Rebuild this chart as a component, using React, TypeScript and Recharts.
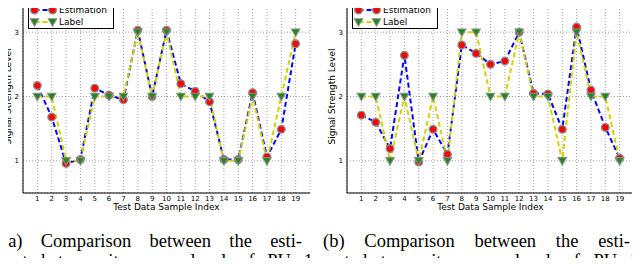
import React from 'react';
import { LineChart, Line, XAxis, YAxis, CartesianGrid } from 'recharts';

const sampleIndex = [1, 2, 3, 4, 5, 6, 7, 8, 9, 10, 11, 12, 13, 14, 15, 16, 17, 18, 19];

const estimationPU1 = [2.17, 1.68, 0.96, 1.02, 2.13, 2.02, 1.95, 3.03, 2.0, 3.03, 2.2, 2.08, 1.92, 1.02, 1.02, 2.06, 1.06, 1.49, 2.82];
const labelPU1 = [2, 2, 1, 1, 2, 2, 2, 3, 2, 3, 2, 2, 2, 1, 1, 2, 1, 2, 3];

const estimationPU2 = [1.71, 1.6, 1.19, 2.64, 0.98, 1.49, 1.1, 2.8, 2.67, 2.5, 2.55, 3.0, 2.05, 2.04, 1.49, 3.08, 2.1, 1.52, 1.04];
const labelPU2 = [2, 2, 1, 2, 1, 2, 1, 3, 3, 2, 2, 3, 2, 2, 1, 3, 2, 2, 1];

const yTicks = [1, 2, 3];

const captionA = ['(a) Comparison between the esti-', 'mated transmit power level of PU 1'];
const captionB = ['(b) Comparison between the esti-', 'mated transmit power level of PU 2'];

const SANS = '"DejaVu Sans", sans-serif';
const BLUE = '#0000ff';
const YELLOW = '#d2d200';

const EstMarker = ({ cx, cy }: { cx: number; cy: number }) => (
  <circle cx={cx} cy={cy} r={3.8} fill="#ff0000" stroke="#8c8c8c" strokeWidth={1.4} />
);

const LabelMarker = ({ cx, cy }: { cx: number; cy: number }) => (
  <polygon
    points={`${cx - 4.2},${cy - 3.2} ${cx + 4.2},${cy - 3.2} ${cx},${cy + 4.2}`}
    fill="#1a8a1a"
    stroke="#8c8c8c"
    strokeWidth={1.1}
  />
);

const renderEstDot = (props: any) => <EstMarker key={`e-${props.index}`} cx={props.cx} cy={props.cy} />;
const renderLabelDot = (props: any) => <LabelMarker key={`l-${props.index}`} cx={props.cx} cy={props.cy} />;

// legend box drawn over the top-left corner of the plot, like matplotlib's loc=2
const LegendBox = () => {
  const rows = [
    { name: 'Estimation', color: BLUE, Marker: EstMarker },
    { name: 'Label', color: YELLOW, Marker: LabelMarker },
  ];
  return (
    <div
      style={{
        position: 'absolute',
        left: 28,
        top: 1,
        border: '1px solid #000',
        background: '#fff',
        padding: '2px 6px 0 1px',
        fontFamily: SANS,
        fontSize: 9,
        lineHeight: '12px',
      }}
    >
      {rows.map(({ name, color, Marker }) => (
        <div key={name} style={{ display: 'flex', alignItems: 'center', height: 12 }}>
          <svg width={27} height={12}>
            <line x1={4.5} y1={6} x2={22.5} y2={6} stroke={color} strokeWidth={2} strokeDasharray="5 3" />
            <Marker cx={4.5} cy={6} />
            <Marker cx={22.5} cy={6} />
          </svg>
          <span style={{ marginLeft: 2, color: '#000' }}>{name}</span>
        </div>
      ))}
    </div>
  );
};

const PowerChart = ({ estimation, label }: { estimation: number[]; label: number[] }) => {
  const data = sampleIndex.map((idx, i) => ({ idx, estimation: estimation[i], label: label[i] }));
  const tick = { fontSize: 7, fill: '#000', fontFamily: SANS };
  return (
    <LineChart width={320} height={214} data={data} margin={{ top: 0, right: 10, bottom: 3, left: 0 }}>
      <CartesianGrid stroke="#8a8a8a" strokeDasharray="1 2" strokeWidth={0.8} />
      <XAxis
        dataKey="idx"
        type="number"
        domain={[0, 20]}
        ticks={sampleIndex}
        interval={0}
        tickLine={false}
        tickSize={0}
        tickMargin={3}
        tick={tick}
        height={18}
        axisLine={{ stroke: '#000', strokeWidth: 1 }}
        label={{ value: 'Test Data Sample Index', position: 'insideBottom', offset: 1, fontSize: 9, fill: '#000', fontFamily: SANS }}
      />
      <XAxis xAxisId="top" orientation="top" type="number" domain={[0, 20]} tick={false} tickLine={false} height={0} axisLine={{ stroke: '#000' }} />
      <YAxis
        type="number"
        domain={[0.5, 3.5]}
        ticks={yTicks}
        tickLine={false}
        tickSize={0}
        tickMargin={4}
        tick={tick}
        width={23}
        axisLine={{ stroke: '#000', strokeWidth: 1 }}
        label={{ value: 'Signal Strength Level', angle: -90, position: 'center', dx: -4, fontSize: 9, fill: '#000', fontFamily: SANS }}
      />
      <YAxis yAxisId="right" orientation="right" type="number" domain={[0.5, 3.5]} tick={false} tickLine={false} width={0} axisLine={{ stroke: '#000' }} />
      <Line
        dataKey="estimation"
        name="Estimation"
        stroke={BLUE}
        strokeWidth={2}
        strokeDasharray="5 3"
        dot={renderEstDot}
        activeDot={false}
        isAnimationActive={false}
      />
      <Line
        dataKey="label"
        name="Label"
        stroke={YELLOW}
        strokeWidth={2}
        strokeDasharray="5 3"
        dot={renderLabelDot}
        activeDot={false}
        isAnimationActive={false}
      />
    </LineChart>
  );
};

const Caption = ({ lines, left, widths }: { lines: string[]; left: number[]; widths: number[] }) => (
  <>
    {lines.map((line, i) => (
      <div
        key={i}
        style={{
          position: 'absolute',
          left: left[i],
          top: 229 + i * 20,
          width: widths[i],
          fontFamily: '"Liberation Serif", serif',
          fontSize: 18.5,
          lineHeight: '24px',
          textAlign: 'justify',
          textAlignLast: 'justify',
          color: '#000',
        }}
      >
        {line}
      </div>
    ))}
  </>
);

export default function App() {
  return (
    <div style={{ position: 'relative', width: 640, height: 266, margin: -8, overflow: 'hidden', background: '#fff' }}>
      <div style={{ position: 'absolute', left: 0, top: 0, width: 320, height: 214 }}>
        <PowerChart estimation={estimationPU1} label={labelPU1} />
        <LegendBox />
      </div>
      <div style={{ position: 'absolute', left: 324, top: 0, width: 320, height: 214 }}>
        <PowerChart estimation={estimationPU2} label={labelPU2} />
        <LegendBox />
      </div>
      <Caption lines={captionA} left={[2, 0]} widths={[300, 313]} />
      <Caption lines={captionB} left={[323, 322]} widths={[307, 318]} />
    </div>
  );
}
